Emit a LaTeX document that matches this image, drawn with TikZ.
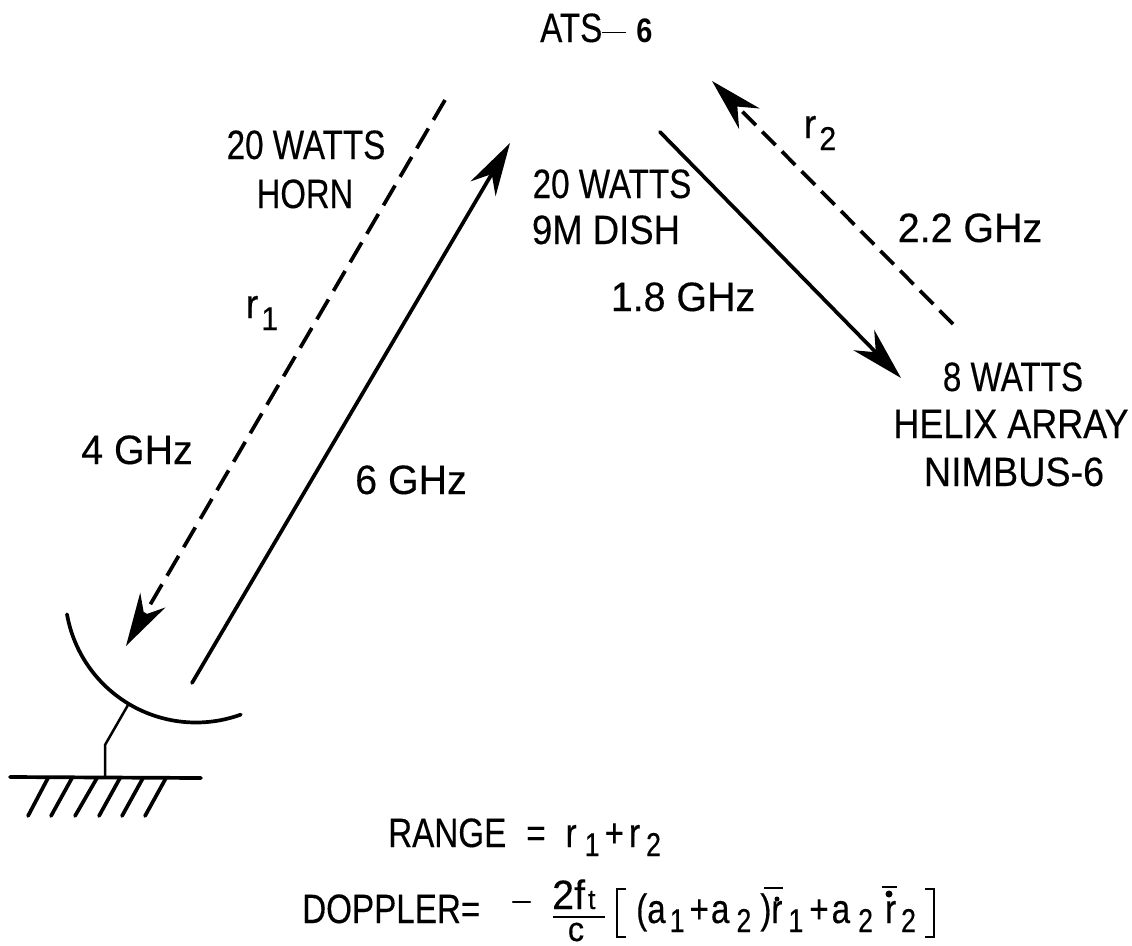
\documentclass[tikz,border=0pt]{standalone}
\usepackage{fontspec}
\usetikzlibrary{arrows.meta}
\setmainfont[FakeStretch=.92,FakeBold=.3]{Liberation Sans}
\newfontface\wattsfont[FakeStretch=.81,FakeBold=.3]{Liberation Sans}
\newfontface\hornfont[FakeStretch=.80,FakeBold=.3]{Liberation Sans}
\newfontface\dishfont[FakeStretch=.89,FakeBold=.3]{Liberation Sans}
\newfontface\ghzfont[FakeStretch=.96,FakeBold=.3]{Liberation Sans}
\newfontface\helixfont[FakeStretch=.877,FakeBold=.3]{Liberation Sans}
\newfontface\sixfont[FakeStretch=.85]{Liberation Sans Bold}
\newcommand\sbs[2][9]{\raisebox{-#1pt}{\fontsize{33}{33}\selectfont #2}}
\tikzset{
  x=1pt,y=-1pt,
  lab/.style={anchor=base,inner sep=0pt,align=center,font=\fontsize{41}{48}\selectfont,text=black},
  labw/.style={lab,anchor=base west},
  wire/.style={line width=3.7pt,black,line cap=round},
  thin wire/.style={line width=2.5pt,black,line cap=round},
  dashlong/.style={wire,line cap=butt,dash pattern=on 23pt off 10pt},
  dashshort/.style={wire,line cap=butt,dash pattern=on 19pt off 9pt},
  headtip/.style={-{Stealth[length=53pt,width=29pt,inset=17pt]}},
}
\begin{document}
\begin{tikzpicture}
\useasboundingbox (0,0) rectangle (1132,945);
\fill[white] (0,0) rectangle (1132,945);
% named ends
\coordinate (r1top) at (445,100);
\coordinate (r1tip) at (126,646);
\coordinate (upbot) at (192,683);
\coordinate (uptip) at (510,143);
\coordinate (dntop) at (660,132);
\coordinate (dntip) at (901,378);
\coordinate (r2bot) at (953,324);
\coordinate (r2tip) at (712,81);
\draw[dashlong,headtip] (r1top) -- (r1tip);
\draw[wire,headtip] (upbot) -- (uptip);
\draw[wire,headtip] (dntop) -- (dntip);
\draw[dashshort,headtip] (r2bot) -- (r2tip);
% dish
\draw[wire,smooth] plot[domain=170:70,samples=40] ({196+131*cos(\x)},{591.5+131*sin(\x)});
\coordinate (stemtop) at (128,705);
\coordinate (stemknee) at (105,745);
\coordinate (stembot) at (105,777);
\draw[thin wire] (stemtop) -- (stemknee) -- (stembot);
\coordinate (gl) at (10,777);
\coordinate (gr) at (201,778);
\draw[wire] (gl) -- (gr);
\foreach \a/\b in {48/28,72/51,97/75,120/99,143/122,166/145}
  \draw[wire] (\a,778) -- (\b,816);
% labels
\node[labw] (ats) at (540,42) {\wattsfont ATS\rule[9pt]{24pt}{1.5pt}\hspace{10pt}{\fontsize{34}{34}\sixfont 6}};
\node[lab] (w1) at (306,159) {\wattsfont 20 WATTS};
\node[lab] (horn) at (305,208) {\hornfont HORN};
\node[lab] (r1) at (262,318) {r\hspace{3pt}\sbs[12]{1}};
\node[lab] (g4) at (137,464) {\ghzfont 4 GHz};
\node[lab] (g6) at (411,494) {\ghzfont 6 GHz};
\node[lab] (w2) at (612,198) {\wattsfont 20 WATTS};
\node[lab] (dish) at (606,244) {\dishfont 9M DISH};
\node[lab] (g18) at (683,311) {\ghzfont 1.8 GHz};
\node[lab] (g22) at (970,242) {\ghzfont 2.2 GHz};
\node[lab] (r2) at (820,138) {r\hspace{3pt}\sbs[12]{2}};
\node[lab] (w3) at (1013,391) {\wattsfont 8 WATTS};
\node[lab] (helix) at (1011,438) {\helixfont HELIX ARRAY};
\node[lab] (nimbus) at (1014,486) {NIMBUS-6};
\node[labw] (range) at (388,847) {\wattsfont RANGE\hspace{20pt}=\hspace{20pt}r\hspace{8pt}\sbs{1}\hspace{5pt}+\hspace{5pt}r\hspace{6pt}\sbs{2}};
\node[labw] (dop) at (302,923) {\wattsfont DOPPLER=};
\coordinate (minl) at (513,902);
\coordinate (minr) at (530,902);
\draw[thin wire] (minl) -- (minr);
\node[labw] (num) at (552,909) {\ghzfont 2f\hspace{3pt}{\fontsize{28}{28}\selectfont t}};
\coordinate (barl) at (553,917);
\coordinate (barr) at (605,917);
\draw[thin wire,line cap=butt] (barl) -- (barr);
\node[lab] (den) at (576,941) {\fontsize{34}{34}\ghzfont c};
\coordinate (bl1) at (626,889);
\coordinate (bl2) at (617,889);
\coordinate (bl3) at (617,937);
\coordinate (bl4) at (626,937);
\draw[thin wire,line cap=butt] (bl1) -- (bl2) -- (bl3) -- (bl4);
\coordinate (br1) at (925,889);
\coordinate (br2) at (934,889);
\coordinate (br3) at (934,937);
\coordinate (br4) at (925,937);
\draw[thin wire,line cap=butt] (br1) -- (br2) -- (br3) -- (br4);
\node[labw] (brk) at (636,923) {\wattsfont (a\hspace{4pt}\sbs{1}\hspace{5pt}+\hspace{2pt}a\hspace{7pt}\sbs{2}\hspace{9pt})r\hspace{6pt}\sbs{1}\hspace{6pt}+\hspace{3pt}a\hspace{8pt}\sbs{2}\hspace{12pt}r\hspace{5pt}\sbs{2}};
% bars and dots over the range rates
\coordinate (ba1) at (764,888);
\coordinate (ba2) at (783,888);
\draw[thin wire,line cap=butt] (ba1) -- (ba2);
\coordinate (bb1) at (882,887);
\coordinate (bb2) at (897,887);
\draw[thin wire,line cap=butt] (bb1) -- (bb2);
\coordinate (da) at (777,899);
\coordinate (db) at (889,894);
\fill (da) circle[radius=2.5pt];
\fill (db) circle[radius=3.5pt];
\end{tikzpicture}
\end{document}
